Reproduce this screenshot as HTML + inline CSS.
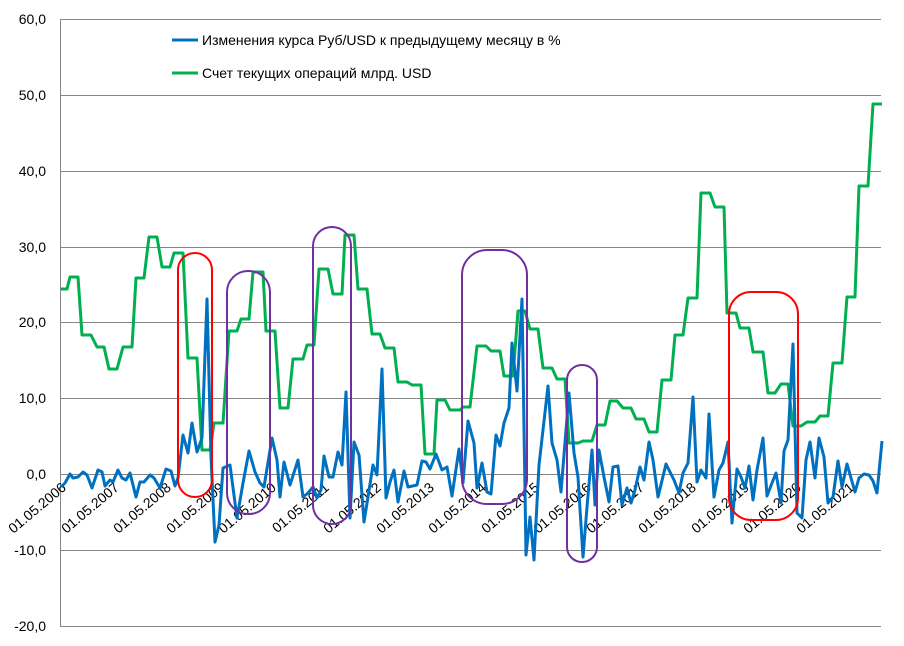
<!DOCTYPE html>
<html><head><meta charset="utf-8"><style>body{margin:0;background:#fff}svg{display:block}</style></head><body>
<svg width="904" height="646" xmlns="http://www.w3.org/2000/svg" font-family="Liberation Sans, sans-serif">
<rect width="904" height="646" fill="#fff"/>
<g stroke="#868686" stroke-width="1">
<line x1="60" y1="19.5" x2="881" y2="19.5"/><line x1="60" y1="95.5" x2="881" y2="95.5"/><line x1="60" y1="171.5" x2="881" y2="171.5"/><line x1="60" y1="247.5" x2="881" y2="247.5"/><line x1="60" y1="322.5" x2="881" y2="322.5"/><line x1="60" y1="398.5" x2="881" y2="398.5"/><line x1="60" y1="474.5" x2="881" y2="474.5"/><line x1="60" y1="550.5" x2="881" y2="550.5"/><line x1="60" y1="626.5" x2="881" y2="626.5"/>
<line x1="60.5" y1="19" x2="60.5" y2="626"/>
</g>
<g font-size="14" text-anchor="end" fill="#000">
<text x="46" y="24">60,0</text><text x="46" y="100">50,0</text><text x="46" y="176">40,0</text><text x="46" y="252">30,0</text><text x="46" y="327">20,0</text><text x="46" y="403">10,0</text><text x="46" y="479">0,0</text><text x="46" y="555">-10,0</text><text x="46" y="631">-20,0</text>
</g>
<g font-size="14" text-anchor="end" fill="#000">
<text transform="translate(67,489) rotate(-40)">01.05.2006</text>
<text transform="translate(120,489) rotate(-40)">01.05.2007</text>
<text transform="translate(172,489) rotate(-40)">01.05.2008</text>
<text transform="translate(225,489) rotate(-40)">01.05.2009</text>
<text transform="translate(277,489) rotate(-40)">01.05.2010</text>
<text transform="translate(330,489) rotate(-40)">01.05.2011</text>
<text transform="translate(382,489) rotate(-40)">01.05.2012</text>
<text transform="translate(435,489) rotate(-40)">01.05.2013</text>
<text transform="translate(487,489) rotate(-40)">01.05.2014</text>
<text transform="translate(540,489) rotate(-40)">01.05.2015</text>
<text transform="translate(592,489) rotate(-40)">01.05.2016</text>
<text transform="translate(645,489) rotate(-40)">01.05.2017</text>
<text transform="translate(697,489) rotate(-40)">01.05.2018</text>
<text transform="translate(750,489) rotate(-40)">01.05.2019</text>
<text transform="translate(802,489) rotate(-40)">01.05.2020</text>
<text transform="translate(855,489) rotate(-40)">01.05.2021</text>
</g>
<polyline fill="none" stroke="#00b050" stroke-width="3" stroke-linejoin="round" points="61,289 67,289 70,277 78,277 82,335 91,335 97,347 104,347 109,369 117,369 123,347 132,347 136,278 144,278 149,237 157,237 162,267 170,267 174,253 183,253 188,358 197,358 202,450 210,450 214,423 223,423 229,331 237,331 241,319 249,319 253,272 263,272 266,331 275,331 280,408 288,408 293,359 303,359 307,345 314,345 319,269 328,269 333,294 342,294 345,235 354,235 358,289 367,289 372,334 380,334 385,348 394,348 398,382 407,382 412,385 421,385 425,454 434,454 437,400 445,400 450,410 460,410 463,407 470,407 477,346 486,346 491,351 500,351 504,376 513,376 518,311 525,311 530,329 538,329 543,368 552,368 557,379 565,379 569,443 578,443 583,441 592,441 597,425 605,425 610,401 617,401 623,408 631,408 636,419 644,419 649,432 657,432 662,380 671,380 675,335 683,335 688,298 697,298 701,193 710,193 715,207 724,207 727,313 736,313 740,328 749,328 753,352 763,352 768,393 775,393 781,384 788,384 793,426 801,426 807,422 815,422 820,416 828,416 833,363 842,363 847,297 855,297 859,186 868,186 873,104 882,104"/>
<polyline fill="none" stroke="#0070c0" stroke-width="3" stroke-linejoin="round" points="61,487 65,483 70,474 73,478 78,477 83,472 87,475 92,488 98,470 102,472 105,486 110,480 113,482 118,470 122,478 126,480 130,473 136,497 140,482 144,482 150,475 154,478 160,488 166,469 171,471 175,486 178,478 183,435 188,453 192,423 197,452 202,438 207,299 211,457 215,542 219,525 223,468 230,465 237,518 243,483 249,451 255,472 260,483 264,487 272,438 277,460 280,497 284,462 290,485 298,460 303,497 308,493 313,487 317,498 321,490 324,456 329,477 333,477 338,452 342,465 346,392 350,518 354,442 359,455 364,522 368,497 373,465 377,475 382,369 386,498 390,482 394,470 398,502 404,471 408,487 417,485 422,461 426,462 430,469 436,454 442,470 447,467 452,496 459,449 463,483 468,421 474,443 477,488 482,463 487,492 491,494 496,435 500,446 504,423 509,408 512,343 517,391 522,299 526,555 530,517 534,560 539,465 543,430 548,386 552,443 557,460 561,492 569,393 574,453 578,477 583,557 587,507 592,450 595,505 599,450 604,477 609,502 613,467 618,466 622,505 627,488 631,503 635,490 640,467 644,480 649,442 653,460 658,497 666,464 674,480 679,493 683,473 688,463 693,397 697,482 701,470 706,478 709,414 714,497 719,470 723,463 728,442 732,523 737,469 741,477 745,488 749,466 753,500 757,470 763,438 767,496 772,483 776,473 781,503 784,451 788,440 793,344 797,513 802,518 806,460 810,442 815,478 819,438 824,457 828,503 833,497 838,461 842,487 847,464 851,478 855,492 859,478 864,474 869,475 873,481 877,493 882,441"/>
<g fill="none" stroke-width="2">
<rect x="178" y="253" width="34" height="244" rx="17" stroke="#ff0000"/>
<rect x="227" y="271" width="43" height="243" rx="21" stroke="#7030a0"/>
<rect x="313" y="227" width="38" height="297" rx="19" stroke="#7030a0"/>
<rect x="462" y="250" width="65" height="254" rx="25" stroke="#7030a0"/>
<rect x="567" y="365" width="30" height="197" rx="15" stroke="#7030a0"/>
<rect x="729" y="292" width="69" height="228" rx="22" stroke="#ff0000"/>
</g>
<line x1="172" y1="40" x2="198" y2="40" stroke="#0070c0" stroke-width="3"/>
<text x="202" y="45" font-size="14">Изменения курса Руб/USD к предыдущему месяцу в %</text>
<line x1="172" y1="73" x2="198" y2="73" stroke="#00b050" stroke-width="3"/>
<text x="202" y="78" font-size="14">Счет текущих операций млрд. USD</text>
</svg>
</body></html>
